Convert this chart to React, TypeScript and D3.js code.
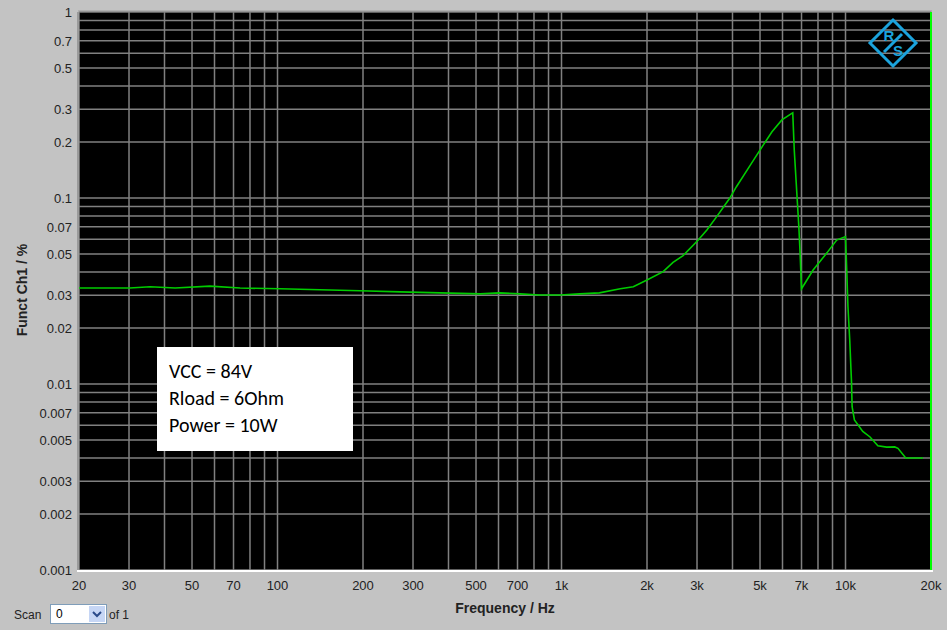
import React from "react";
import * as d3 from "d3";

const freqs = [20, 30.2, 35.6, 43.6, 57.8, 73.8, 102, 141, 195, 270, 373, 517, 605, 714, 838, 989, 1160, 1360, 1610, 1790, 2000, 2280, 2470, 2680, 3030, 3250, 3520, 3910, 4130, 4580, 5090, 5510, 5970, 6470, 6520, 6600, 6850, 6920, 7000, 7690, 8600, 9310, 10000, 10100, 10200, 10350, 10500, 10550, 10750, 11500, 12200, 13000, 13960, 14900, 15300, 16300, 17300, 18750];
const values = [0.0328, 0.0328, 0.0333, 0.0328, 0.0336, 0.0328, 0.0325, 0.0321, 0.0317, 0.0313, 0.0309, 0.0305, 0.0309, 0.0305, 0.0301, 0.0301, 0.0305, 0.0309, 0.0325, 0.0333, 0.0362, 0.0402, 0.0451, 0.049, 0.0594, 0.0673, 0.0794, 0.0996, 0.115, 0.147, 0.189, 0.227, 0.263, 0.285, 0.287, 0.181, 0.0701, 0.0507, 0.0325, 0.041, 0.0507, 0.0594, 0.062, 0.041, 0.0261, 0.0172, 0.0102, 0.00755, 0.0064, 0.00556, 0.00519, 0.00466, 0.00458, 0.00459, 0.00451, 0.004, 0.004, 0.004];

const xTicks = [20, 30, 50, 70, 100, 200, 300, 500, 700, 1000, 2000, 3000, 5000, 7000, 10000, 20000];
const xTickLabels = ["20", "30", "50", "70", "100", "200", "300", "500", "700", "1k", "2k", "3k", "5k", "7k", "10k", "20k"];
const yTicks = [1, 0.7, 0.5, 0.3, 0.2, 0.1, 0.07, 0.05, 0.03, 0.02, 0.01, 0.007, 0.005, 0.003, 0.002, 0.001];
const legendLines = ["VCC = 84V", "Rload = 6Ohm", "Power = 10W"];

const L = 79, R = 931, T = 12, B = 570;

function gridValues(lo: number, hi: number): number[] {
  const out: number[] = [];
  for (let d = lo; d < hi; d *= 10) {
    for (let m = 1; m <= 9; m++) {
      const v = d * m;
      if (v >= lo - 1e-12 && v <= hi + 1e-12) out.push(v);
    }
  }
  out.push(hi);
  return out;
}

export default function App() {
  const x = d3.scaleLog().domain([20, 20000]).range([L, R]);
  const y = d3.scaleLog().domain([0.001, 1]).range([B, T]);
  const xGrid = gridValues(10, 20000).filter((v) => v >= 20 && v <= 20000);
  const yGrid = gridValues(0.001, 1);
  const line = d3
    .line<number>()
    .x((_, i) => x(freqs[i]))
    .y((d) => y(d));
  const font = "Arial, 'Liberation Sans', sans-serif";
  const cx = 893, cy = 43, rr = 23;
  return (
    <svg width={947} height={630} style={{ position: "absolute", left: 0, top: 0 }}>
      <rect x={0} y={0} width={947} height={630} fill="#c3c3c3" />
      <rect x={L} y={T} width={R - L} height={B - T} fill="#000" />
      {xGrid.map((v, i) => (
        <line key={"xg" + i} x1={x(v)} x2={x(v)} y1={T} y2={B} stroke="#808080" strokeWidth={1.5} />
      ))}
      {yGrid.map((v, i) => (
        <line key={"yg" + i} x1={L} x2={R} y1={y(v)} y2={y(v)} stroke="#808080" strokeWidth={1.5} />
      ))}
      <line x1={L - 1} x2={L - 1} y1={T} y2={B} stroke="#9a9a9a" strokeWidth={2} />
      <line x1={L - 1} x2={R + 1} y1={T - 1} y2={T - 1} stroke="#9a9a9a" strokeWidth={1} />
      <line x1={L - 2} x2={R + 2} y1={B + 1} y2={B + 1} stroke="#ffffff" strokeWidth={2} />
      <line x1={R} x2={R} y1={T} y2={B} stroke="#00ff00" strokeWidth={2} />
      <path d={line(values) || ""} fill="none" stroke="#00cc00" strokeWidth={1.6} />
      {/* logo */}
      <g>
        <polygon
          points={`${cx},${cy - rr} ${cx + rr},${cy} ${cx},${cy + rr} ${cx - rr},${cy}`}
          fill="none"
          stroke="#1ba3dd"
          strokeWidth={3}
        />
        <text x={cx - 4} y={cy - 2} fontFamily={font} fontWeight="bold" fontSize={15} fill="#1ba3dd" textAnchor="middle">R</text>
        <text x={cx + 5} y={cy + 13} fontFamily={font} fontWeight="bold" fontSize={15} fill="#1ba3dd" textAnchor="middle">S</text>
        <line x1={cx - 9} y1={cy + 9} x2={cx + 9} y2={cy - 9} stroke="#1ba3dd" strokeWidth={3} />
      </g>
      {/* legend */}
      <rect x={157} y={347} width={196} height={104} fill="#fff" />
      {legendLines.map((t, i) => (
        <text key={t} x={169} y={378 + i * 27} fontFamily="Carlito, Lato, 'Open Sans', sans-serif" fontSize={20} fill="#000">
          {t}
        </text>
      ))}
      {/* y ticks */}
      {yTicks.map((v) => (
        <text key={"yt" + v} x={72} y={y(v) + 5} fontFamily={font} fontSize={13} fill="#222" textAnchor="end">
          {String(v)}
        </text>
      ))}
      {xTicks.map((v, i) => (
        <text key={"xt" + v} x={x(v)} y={590} fontFamily={font} fontSize={13} fill="#222" textAnchor="middle">
          {xTickLabels[i]}
        </text>
      ))}
      <text x={505} y={613} fontFamily={font} fontWeight="bold" fontSize={14} fill="#222" textAnchor="middle">
        Frequency / Hz
      </text>
      <text
        transform={`translate(27, 290) rotate(-90)`}
        fontFamily={font}
        fontWeight="bold"
        fontSize={14}
        fill="#222"
        textAnchor="middle"
      >
        Funct Ch1 / %
      </text>
      {/* scan control */}
      <text x={14} y={619} fontFamily={font} fontSize={12} fill="#222">Scan</text>
      <rect x={50.5} y={604.5} width={56} height={19} fill="#fff" stroke="#7f9db9" />
      <text x={56} y={618} fontFamily={font} fontSize={12} fill="#000">0</text>
      <rect x={89} y={606} width={16} height={16} fill="#c6d6f5" />
      <path d="M93,612 L97,616 L101,612" fill="none" stroke="#2a4a8a" strokeWidth={2} />
      <text x={109} y={619} fontFamily={font} fontSize={12} fill="#222">of 1</text>
    </svg>
  );
}
